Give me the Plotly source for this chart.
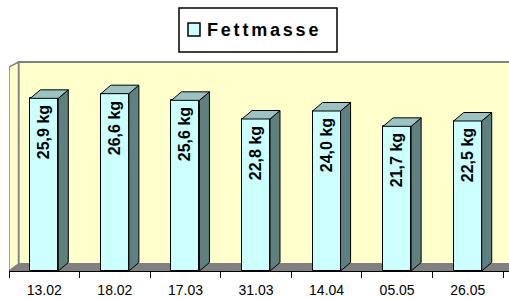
import plotly.graph_objects as go

# ---- data ----
dates = ["13.02", "18.02", "17.03", "31.03", "14.04", "05.05", "26.05"]
fettmasse = [25.9, 26.6, 25.6, 22.8, 24.0, 21.7, 22.5]
series_name = "Fettmasse"
unit = "kg"

# ---- geometry (pixel layout) ----
W, H = 509, 299
ML, MR, MT, MB = 9, 0, 61, 28
PW, PH = W - ML - MR, H - MT - MB
XR = [-0.5, 6.585]
YR = [0, 31.5]
PXX = PW / (XR[1] - XR[0])
PXY = PH / (YR[1] - YR[0])

def px2x(px):
    return XR[0] + (px - ML) / PXX

def py2y(py):
    return (MT + PH - py) / PXY

bar_w = 28 / PXX
bdx, bdy = 10 / PXX, 8.5 / PXY

FRONT = "#CCFFFF"
SIDE = "#5F8080"
TOP = "#9CC2C2"
WALL = "#FFFFCC"
GREY = "#808080"

xs = list(range(len(dates)))
labels = [f"{v:.1f}".replace(".", ",") + f" {unit}\u00a0" for v in fettmasse]

fig = go.Figure()

fig.add_trace(go.Bar(
    x=xs, y=fettmasse, width=bar_w, name=series_name,
    marker=dict(color=FRONT, line=dict(color="black", width=1)),
    text=labels, textposition="inside", insidetextanchor="end",
    textangle=-90, constraintext="none",
    insidetextfont=dict(family="Liberation Sans, Arial", size=16, color="black", weight="bold"),
    showlegend=False, hoverinfo="skip",
))

# side and top faces of the 3D bars
sx, sy = [], []
tx, ty = [], []
for x, v in zip(xs, fettmasse):
    xr = x + bar_w / 2
    xl = x - bar_w / 2
    sx += [xr, xr + bdx, xr + bdx, xr, xr, None]
    sy += [0, bdy, v + bdy, v, 0, None]
    tx += [xl, xl + bdx, xr + bdx, xr, xl, None]
    ty += [v, v + bdy, v + bdy, v, v, None]

fig.add_trace(go.Scatter(x=sx, y=sy, mode="lines", fill="toself", fillcolor=SIDE,
                         line=dict(color="black", width=1), showlegend=False, hoverinfo="skip"))
fig.add_trace(go.Scatter(x=tx, y=ty, mode="lines", fill="toself", fillcolor=TOP,
                         line=dict(color="black", width=1), showlegend=False, hoverinfo="skip"))

# walls and floor
xb0 = px2x(18.5)
xend = XR[1] + 0.2
ybk0 = py2y(264)
ytop_b = py2y(62)
ytop_f = py2y(67)
fig.add_shape(type="path", xref="x", yref="y", layer="below",
              path=f"M{xb0},{ybk0} L{xb0},{ytop_b} L{xend},{ytop_b} L{xend},{ybk0} Z",
              fillcolor=WALL, line=dict(color=GREY, width=2))
fig.add_shape(type="path", xref="x", yref="y", layer="below",
              path=f"M{XR[0]},0 L{XR[0]},{ytop_f} L{xb0},{ytop_b} L{xb0},{ybk0} Z",
              fillcolor=WALL, line=dict(color=GREY, width=1.5))
fig.add_shape(type="path", xref="x", yref="y", layer="below",
              path=f"M{XR[0]},0 L{xb0},{ybk0} L{xend},{ybk0} L{xend},0 Z",
              fillcolor=GREY, line=dict(color=GREY, width=1))

# manual legend
def ppx(px):
    return (px - ML) / PW

def ppy(py):
    return (MT + PH - py) / PH

fig.add_shape(type="rect", xref="paper", yref="paper",
              x0=ppx(179), x1=ppx(337), y0=ppy(52), y1=ppy(8),
              fillcolor="white", line=dict(color="black", width=1.5))
fig.add_shape(type="rect", xref="paper", yref="paper",
              x0=ppx(188), x1=ppx(200), y0=ppy(36), y1=ppy(23),
              fillcolor=FRONT, line=dict(color="black", width=1.5))
fig.add_annotation(xref="paper", yref="paper", x=ppx(205), y=ppy(30),
                   xanchor="left", yanchor="middle", showarrow=False,
                   text=f'<span style="letter-spacing:2.8px">{series_name}</span>',
                   font=dict(family="Liberation Sans, Arial", size=18, color="black", weight="bold"))

fig.update_layout(
    width=W, height=H,
    margin=dict(l=ML, r=MR, t=MT, b=MB, pad=0),
    paper_bgcolor="white", plot_bgcolor="rgba(0,0,0,0)",
    bargap=0, showlegend=False,
    xaxis=dict(range=XR, tickvals=xs, ticktext=dates, ticks="outside", ticklen=6,
               tickcolor="rgba(0,0,0,0)", showgrid=False, zeroline=False,
               showline=True, linecolor="black", linewidth=1,
               tickfont=dict(family="Liberation Sans, Arial", size=14, color="black"),
               minor=dict(tickvals=[i - 0.5 for i in range(len(dates) + 1)], ticks="outside",
                          ticklen=6, tickcolor="black", tickwidth=1, showgrid=False),
               fixedrange=True),
    yaxis=dict(range=YR, visible=False, fixedrange=True),
)

fig.write_html("out.html", config={"displayModeBar": False},
               post_script="document.body.style.margin='0';document.body.style.overflow='hidden';")
